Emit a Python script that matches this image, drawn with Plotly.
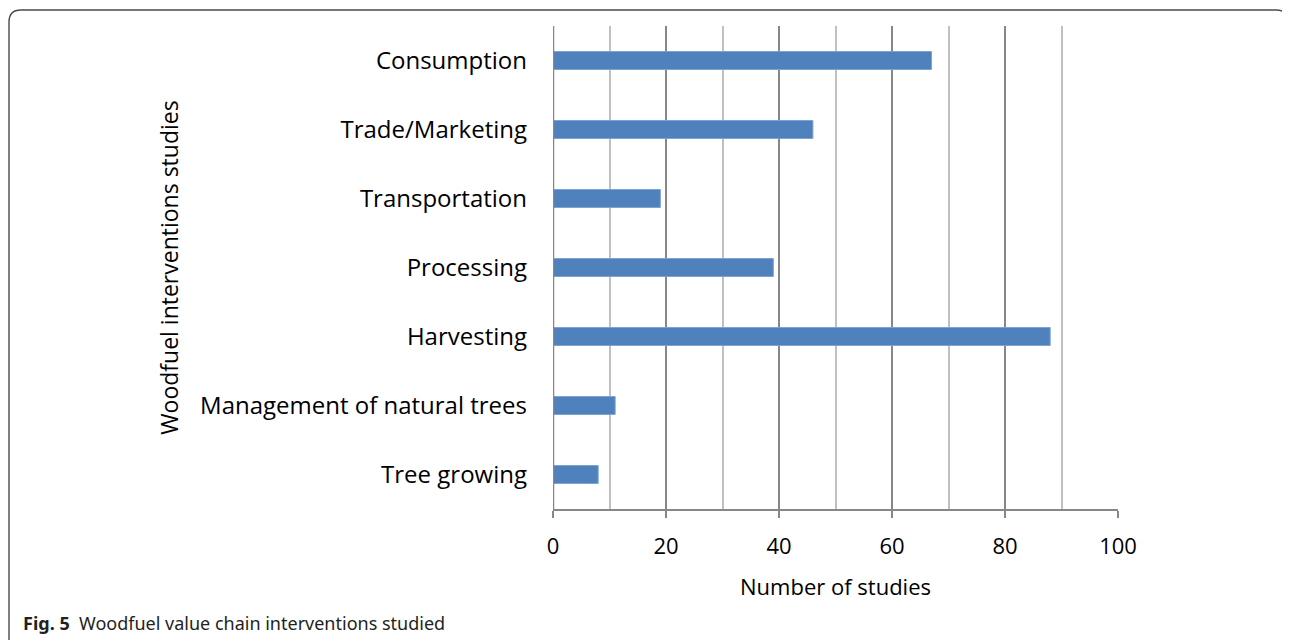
import plotly.graph_objects as go

categories = ["Tree growing", "Management of natural trees", "Harvesting", "Processing",
              "Transportation", "Trade/Marketing", "Consumption"]
values = [8, 11, 88, 39, 19, 46, 67]
x_ticks = [0, 20, 40, 60, 80, 100]

# page has an 8px body margin; figure coords = reference coords - 8
OFF = 8
W, H = 1290 - OFF, 640 - OFF
L, R, T, B = 553 - OFF, 1118 - OFF, 26 - OFF, 509 - OFF

def px(x):
    return (x - OFF - L) / (R - L)

def py(y):
    return (B - (y - OFF)) / (B - T)

fig = go.Figure()
fig.add_trace(go.Bar(
    y=categories, x=values, orientation="h", width=0.26,
    marker=dict(color="#4F81BD", line=dict(color="#7FA2D0", width=1)),
    showlegend=False, hoverinfo="x+y",
))

FONT = "Open Sans"
fig.update_layout(
    width=W, height=H,
    margin=dict(l=L, r=W - R, t=T, b=H - B),
    paper_bgcolor="white", plot_bgcolor="white",
    font=dict(family=FONT, color="#000000", size=22),
    xaxis=dict(
        range=[0, 100], tickvals=x_ticks, ticks="outside", ticklen=7, tickwidth=1.5,
        tickcolor="#878787", showline=True, linecolor="#878787", linewidth=1.5,
        showgrid=True, gridcolor="#878787", gridwidth=1.5, zeroline=False,
        minor=dict(dtick=10, tick0=10, showgrid=True, gridcolor="#C0C0C0", gridwidth=1.5, ticks=""),
        tickfont=dict(size=22, family=FONT), ticklabelstandoff=10,
        title=dict(text="Number of studies", font=dict(size=22, family=FONT), standoff=20),
        fixedrange=True,
    ),
    yaxis=dict(
        categoryorder="array", categoryarray=categories,
        showline=False, showgrid=False, zeroline=False,
        ticks="", ticklabelstandoff=25,
        tickfont=dict(size=24, family=FONT),
        title=dict(text="Woodfuel interventions studies", font=dict(size=23, family=FONT), standoff=14),
        fixedrange=True,
    ),
)

# y axis line at x=0
fig.add_shape(type="line", xref="x", yref="paper", x0=0, x1=0, y0=0, y1=1,
              line=dict(color="#878787", width=2.5))

# Frame with rounded top corners (left edge kept just inside the figure)
x0, x1 = px(OFF + 1), px(1288)
y_top, y_bot = py(10), py(650)
rx = 12 / (R - L)
ry = 12 / (B - T)
path = (f"M {x0},{y_bot} L {x0},{y_top - ry} Q {x0},{y_top} {x0 + rx},{y_top} "
        f"L {x1 - rx},{y_top} Q {x1},{y_top} {x1},{y_top - ry} L {x1},{y_bot}")
fig.add_shape(type="path", xref="paper", yref="paper", path=path,
              line=dict(color="#4A4A4A", width=1.4))

fig.add_annotation(
    xref="paper", yref="paper", x=px(21), y=py(623), xanchor="left", yanchor="middle",
    text="<b>Fig. 5</b>  Woodfuel value chain interventions studied",
    showarrow=False, font=dict(family="Noto Sans", size=18, color="#231F20"),
)

fig.write_html("out.html")
